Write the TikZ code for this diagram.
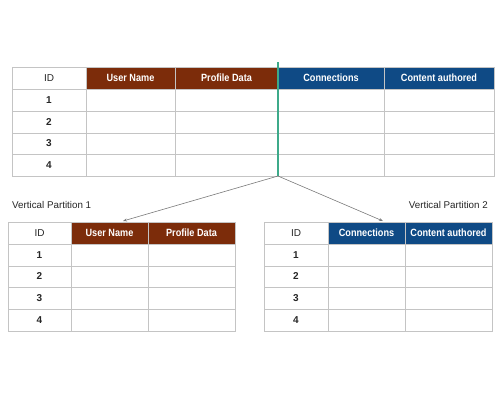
\documentclass[tikz,border=0pt]{standalone}
\usepackage{fontspec}
\setmainfont{Liberation Sans}
\newfontfamily\hdfont[FakeStretch=0.87]{Liberation Sans}
\usetikzlibrary{arrows.meta}
\definecolor{brownhd}{HTML}{7C2C0A}
\definecolor{bluehd}{HTML}{0F4A85}
\definecolor{gridgray}{HTML}{C4C4C4}
\definecolor{splitgreen}{HTML}{3DAA8A}
\definecolor{arrowgray}{HTML}{7A7A7A}
\tikzset{
  gridline/.style={draw=gridgray, line width=0.8pt},
  celltext/.style={text height=1.5ex, text depth=0.3ex, inner sep=0pt},
  hdtext/.style={celltext, font=\hdfont\fontsize{10.5}{12}\selectfont\bfseries, text=white},
  idtext/.style={celltext, font=\fontsize{10}{12}\selectfont, text=black!85},
  numtext/.style={celltext, font=\fontsize{10}{12}\selectfont\bfseries, text=black!85},
  labeltext/.style={celltext, font=\fontsize{9.8}{12}\selectfont, text=black!85},
  splitline/.style={draw=splitgreen, line width=1.4pt},
  arrowline/.style={draw=arrowgray, line width=0.6pt, -{Stealth[length=4pt,width=3pt]}}
}
\begin{document}
\begin{tikzpicture}[x=1pt,y=-1pt]
\useasboundingbox[fill=white] (0,0) rectangle (500,400);

% ---------- top table ----------
\fill[brownhd] (86,67) rectangle (278,89);
\fill[bluehd] (278,67) rectangle (494,89);
\foreach \yy in {89,111,133,154} \draw[gridline] (12,\yy) -- (494,\yy);
\draw[gridline] (12,67) rectangle (494,176);
\foreach \xx in {86,175,384} \draw[gridline] (\xx,67) -- (\xx,176);
\node[idtext] (tid) at (49,78) {ID};
\node[hdtext] (tun) at (130.5,78) {User Name};
\node[hdtext] (tpd) at (226.5,78) {Profile Data};
\node[hdtext] (tcn) at (331,78) {Connections};
\node[hdtext] (tca) at (439,78) {Content authored};
\node[numtext] (t1) at (49,100) {1};
\node[numtext] (t2) at (49,122) {2};
\node[numtext] (t3) at (49,143.5) {3};
\node[numtext] (t4) at (49,165) {4};

% ---------- split ----------
\coordinate (stop) at (278,62);
\coordinate (sbot) at (278,176);
\draw[splitline] (stop) -- (sbot);

% ---------- partition 1 ----------
\node[labeltext, anchor=west] (lab1) at (12,205) {Vertical Partition 1};
\fill[brownhd] (71,222) rectangle (235,244);
\foreach \yy in {244,266,287,309} \draw[gridline] (8,\yy) -- (235,\yy);
\draw[gridline] (8,222) rectangle (235,331);
\foreach \xx in {71,148} \draw[gridline] (\xx,222) -- (\xx,331);
\node[idtext] (aid) at (39.5,233) {ID};
\node[hdtext] (aun) at (109.5,233) {User Name};
\node[hdtext] (apd) at (191.5,233) {Profile Data};
\node[numtext] (a1) at (39.5,255) {1};
\node[numtext] (a2) at (39.5,276.5) {2};
\node[numtext] (a3) at (39.5,298) {3};
\node[numtext] (a4) at (39.5,320) {4};
\coordinate (tgt1) at (123,221);

% ---------- partition 2 ----------
\node[labeltext, anchor=east] (lab2) at (488,205) {Vertical Partition 2};
\fill[bluehd] (328,222) rectangle (492,244);
\foreach \yy in {244,266,287,309} \draw[gridline] (264,\yy) -- (492,\yy);
\draw[gridline] (264,222) rectangle (492,331);
\foreach \xx in {328,405} \draw[gridline] (\xx,222) -- (\xx,331);
\node[idtext] (bid) at (296,233) {ID};
\node[hdtext] (bcn) at (366.5,233) {Connections};
\node[hdtext] (bca) at (448.5,233) {Content authored};
\node[numtext] (b1) at (296,255) {1};
\node[numtext] (b2) at (296,276.5) {2};
\node[numtext] (b3) at (296,298) {3};
\node[numtext] (b4) at (296,320) {4};
\coordinate (tgt2) at (383,221);

% ---------- arrows ----------
\draw[arrowline] (sbot) -- (tgt1);
\draw[arrowline] (sbot) -- (tgt2);
\end{tikzpicture}
\end{document}
